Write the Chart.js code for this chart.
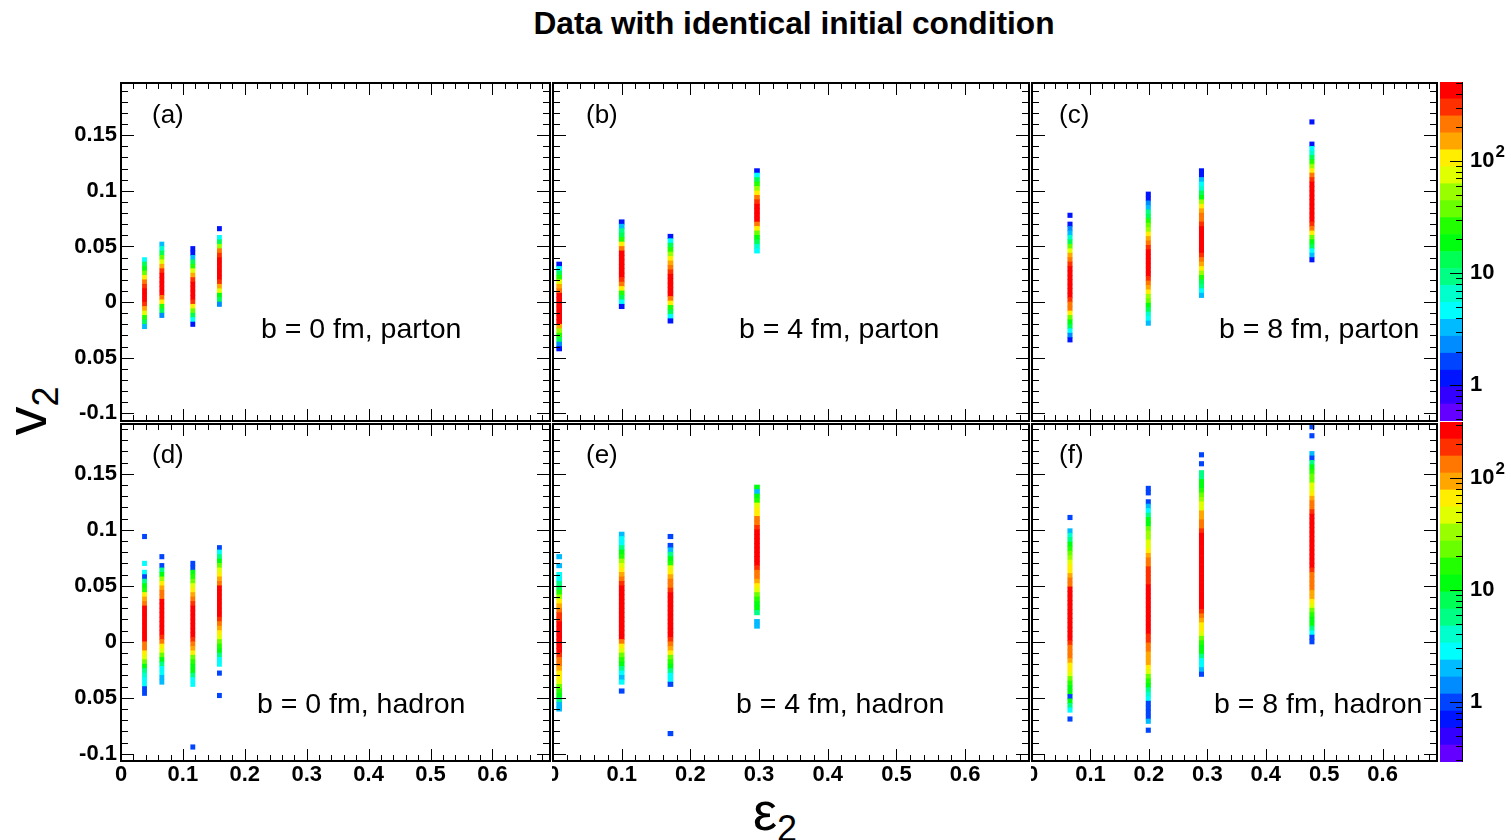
<!DOCTYPE html>
<html>
<head>
<meta charset="utf-8">
<title>Data with identical initial condition</title>
<script src="https://cdn.jsdelivr.net/npm/chart.js@4.4.1/dist/chart.umd.min.js"></script>
<style>
  html, body { margin: 0; padding: 0; background: #fff; }
  #page { position: relative; width: 1511px; height: 840px; overflow: hidden; background: #fff;
          font-family: 'Liberation Sans', Arial, sans-serif; color: #000; }
  canvas { position: absolute; }
  .txt { position: absolute; line-height: 1; white-space: nowrap; }
</style>
</head>
<body>
<div id="page">
  <div class="txt" style="left:794px; top:7.5px; transform:translateX(-50%); font-weight:bold; font-size:31.7px;">Data with identical initial condition</div>
  <div class="txt" style="left:26px; top:411px; transform:translate(-50%,-50%) rotate(-90deg); font-size:58px;">v<span style="font-size:36px; position:relative; top:12px;">2</span></div>
  <div class="txt" style="left:753px; top:784px; font-size:54px;">ε</div>
  <div class="txt" style="left:777px; top:811px; font-size:36px;">2</div>
</div>
<script>
// ---- data ----
const vBin = 0.004; // v2 bin width of the 2D histograms

// epsilon_2 of the four events in each impact-parameter class
const eps0fm = [0.038, 0.066, 0.116, 0.159];
const eps4fm = [0.009, 0.100, 0.171, 0.297];
const eps8fm = [0.065, 0.199, 0.290, 0.479];

// top edge (v2) of each strip and its counts per bin, read from top to bottom
const partonB0Top = [0.040, 0.054, 0.050, 0.068];
const partonB0Counts = [
  [5, 12, 20, 40, 90, 180, 350, 450, 480, 450, 300, 150, 80, 30, 15, 3],
  [3, 6, 15, 35, 80, 160, 300, 450, 500, 520, 500, 450, 220, 100, 30, 12, 2],
  [1, 1, 3, 12, 30, 80, 150, 300, 450, 480, 470, 450, 300, 100, 40, 15, 5, 1],
  [1, 0, 5, 15, 60, 180, 350, 450, 480, 470, 450, 450, 300, 150, 70, 20, 12, 2]
];
const partonB4Top = [0.036, 0.074, 0.061, 0.120];
const partonB4Counts = [
  [1, 5, 12, 30, 70, 150, 250, 400, 480, 500, 500, 480, 450, 400, 150, 60, 25, 12, 2, 1],
  [1, 3, 8, 15, 30, 100, 200, 400, 450, 480, 500, 480, 450, 300, 200, 90, 30, 15, 4, 1],
  [1, 4, 12, 25, 60, 90, 150, 220, 350, 450, 480, 480, 470, 400, 200, 90, 30, 15, 4, 1],
  [1, 4, 12, 25, 50, 90, 180, 300, 450, 500, 480, 400, 200, 100, 35, 20, 12, 6, 4]
];
const partonB8Top = [0.080, 0.099, 0.120, 0.164];
const partonB8Counts = [
  [1, 0, 1, 2, 3, 6, 15, 35, 70, 150, 200, 300, 400, 450, 480, 500, 480, 450, 400, 300, 250, 180, 100, 40, 20, 12, 4, 2, 1],
  [1, 1, 2, 3, 8, 15, 25, 40, 60, 90, 130, 200, 300, 400, 450, 480, 480, 450, 400, 300, 200, 150, 100, 60, 35, 20, 12, 6, 4, 3],
  [1, 1, 3, 4, 6, 12, 20, 50, 90, 150, 200, 250, 350, 450, 480, 500, 500, 480, 450, 300, 200, 150, 100, 60, 25, 15, 8, 4, 3],
  [1, 0, 0, 0, 0, 1, 4, 6, 15, 30, 60, 100, 200, 300, 400, 450, 480, 500, 500, 500, 480, 450, 400, 300, 180, 100, 40, 20, 12, 4, 3, 1]
];
const hadronB0Top = [0.096, 0.078, 0.072, 0.086];
const hadronB0Counts = [
  [1, 0, 0, 0, 0, 0, 3, 0, 3, 1, 5, 10, 15, 60, 110, 150, 230, 260, 280, 300, 300, 280, 250, 230, 150, 120, 70, 55, 20, 12, 6, 4, 3, 3, 1, 1],
  [1, 0, 1, 5, 12, 30, 60, 90, 120, 150, 230, 260, 280, 300, 300, 300, 280, 260, 220, 150, 70, 45, 20, 12, 5, 3, 3, 2, 2],
  [1, 1, 10, 15, 20, 45, 65, 90, 130, 180, 240, 280, 300, 300, 300, 280, 240, 180, 130, 90, 60, 25, 15, 12, 10, 6, 3, 3,
   0, 0, 0, 0, 0, 0, 0, 0, 0, 0, 0, 0, 0, 1],
  [1, 3, 6, 12, 20, 55, 70, 110, 150, 240, 280, 300, 300, 280, 260, 240, 180, 140, 110, 70, 45, 25, 15, 12, 6, 3, 3, 0, 1, 0, 0, 0, 0, 1]
];
const hadronB4Top = [0.078, 0.098, 0.096, 0.140];
const hadronB4Counts = [
  [2, 0, 2, 0, 3, 3, 5, 8, 15, 30, 60, 90, 130, 160, 200, 240, 280, 300, 320, 300, 280, 250, 180, 140, 120, 100, 70, 60, 40, 20, 15, 10, 6, 2, 2],
  [2, 3, 3, 5, 10, 15, 30, 45, 60, 90, 130, 200, 240, 260, 280, 300, 300, 320, 320, 300, 300, 280, 260, 240, 140, 70, 45, 20, 15, 10, 5, 3, 2, 3, 0, 1],
  [1, 0, 1, 2, 5, 12, 15, 40, 60, 90, 130, 150, 200, 240, 280, 300, 320, 320, 320, 300, 300, 280, 240, 200, 140, 80, 60, 25, 15, 12, 6, 3, 3, 1,
   0, 0, 0, 0, 0, 0, 0, 0, 0, 0, 1],
  [12, 2, 12, 15, 40, 60, 70, 120, 150, 200, 240, 280, 300, 320, 320, 300, 280, 240, 200, 140, 120, 90, 65, 45, 25, 15, 12, 10, 6, 0, 2, 2]
];
const hadronB8Top = [0.113, 0.139, 0.169, 0.194];
const hadronB8Counts = [
  [1, 0, 0, 2, 4, 6, 10, 15, 20, 35, 45, 60, 70, 110, 140, 150, 230, 250, 270, 290, 300, 310, 320, 310, 300, 290, 270, 240, 200, 150, 130, 120, 100, 70, 60, 40, 25, 15, 12, 12, 1, 10, 6, 3, 0, 1],
  [1, 1, 0, 1, 2, 3, 5, 10, 12, 25, 30, 35, 40, 50, 70, 80, 120, 140, 160, 200, 210, 220, 260,
   300, 300, 300, 300, 300, 300, 300, 300, 300, 300,
   200, 200, 150, 140, 100, 90, 80, 70, 50, 25, 15, 12, 6, 4, 3, 1, 1, 1, 1, 2, 0, 1],
  [1, 0, 1, 0, 5, 6, 10, 12, 15, 20, 30, 40, 55, 80, 110, 130, 150, 200, 230, 250, 270, 290, 300, 300, 310, 320, 320, 320, 310, 300, 300, 290, 270, 250, 230, 200, 140, 100, 70, 60, 40, 25, 15, 12, 10, 6, 3, 3, 2, 1],
  [1, 0, 1, 0, 0, 0, 2, 1, 6, 12, 15, 20, 25, 40, 55, 70, 110, 130, 150, 200, 240, 260, 280, 300, 310, 320, 320, 310, 300, 280, 260, 240, 200, 150, 140, 130, 120, 100, 80, 65, 45, 25, 15, 12, 10, 6, 3, 1, 1]
];

// axis ranges and colour (z) ranges
const xRange = [0, 0.693];
const yRangeParton = [-0.107, 0.197];
const yRangeHadron = [-0.1065, 0.1945];
const zRangeParton = [0.48, 507];
const zRangeHadron = [0.29, 316];

// tick labels (palette labels: base text plus exponent)
const xTickValues = [0, 0.1, 0.2, 0.3, 0.4, 0.5, 0.6];
const xTickLabels = ['0', '0.1', '0.2', '0.3', '0.4', '0.5', '0.6'];
const yTickValues = [-0.1, -0.05, 0, 0.05, 0.1, 0.15];
const yTickLabels = ['-0.1', '0.05', '0', '0.05', '0.1', '0.15'];
const zTickValues = [1, 10, 100];
const zTickLabels = ['1', '10', '10'];
const zTickExps = ['', '', '2'];

const panelTags = ['(a)', '(b)', '(c)', '(d)', '(e)', '(f)'];
const panelNotes = ['b = 0 fm, parton', 'b = 4 fm, parton', 'b = 8 fm, parton',
                    'b = 0 fm, hadron', 'b = 4 fm, hadron', 'b = 8 fm, hadron'];

// ---- drawing ----
Chart.defaults.font.family = "'Liberation Sans', Arial, sans-serif";
Chart.defaults.color = '#000';
const page = document.getElementById('page');
const nLevels = 20;
const tickFont = {size: 22, weight: 'bold'};

// ROOT "pretty" palette, 20 contour levels
function levelColor(k) {
  const hue = 280 - (Math.floor((k + 0.99) * 2.5) + 1) * 5.6;
  return 'hsl(' + hue.toFixed(1) + ', 100%, 50%)';
}
function countColor(c, zr) {
  const lmin = Math.log10(zr[0]), lmax = Math.log10(zr[1]);
  let k = Math.floor((Math.log10(c) - lmin) / (lmax - lmin) * nLevels);
  return levelColor(Math.max(0, Math.min(nLevels - 1, k)));
}

// frame with inward ticks on all four sides
const frameTicks = {
  id: 'frameTicks',
  afterDatasetsDraw(chart) {
    const {ctx, chartArea: a, scales: {x, y}} = chart;
    ctx.save();
    ctx.strokeStyle = '#000';
    ctx.lineWidth = 1;
    ctx.beginPath();
    for (let i = Math.ceil(x.min / 0.02 - 1e-6); i * 0.02 <= x.max + 1e-9; i++) {
      const px = Math.round(x.getPixelForValue(i * 0.02)) + 0.5;
      const len = i % 5 === 0 ? 12 : 6;
      ctx.moveTo(px, a.bottom); ctx.lineTo(px, a.bottom - len);
      ctx.moveTo(px, a.top); ctx.lineTo(px, a.top + len);
    }
    for (let i = Math.ceil(y.min / 0.01 - 1e-6); i * 0.01 <= y.max + 1e-9; i++) {
      const py = Math.round(y.getPixelForValue(i * 0.01)) + 0.5;
      const len = i % 5 === 0 ? 13 : 7;
      ctx.moveTo(a.left, py); ctx.lineTo(a.left + len, py);
      ctx.moveTo(a.right, py); ctx.lineTo(a.right - len, py);
    }
    ctx.stroke();
    ctx.lineWidth = 2;
    ctx.strokeRect(a.left, a.top, a.right - a.left, a.bottom - a.top);
    ctx.restore();
  }
};

// log ticks on the palette axis, plus exponents of its labels
const paletteTicks = {
  id: 'paletteTicks',
  afterDatasetsDraw(chart) {
    const {ctx, chartArea: a, scales: {y}} = chart;
    ctx.save();
    ctx.strokeStyle = '#000';
    ctx.lineWidth = 1;
    ctx.beginPath();
    for (let d = Math.floor(Math.log10(y.min)); d <= Math.ceil(Math.log10(y.max)); d++) {
      for (let m = 1; m < 10; m++) {
        const v = m * Math.pow(10, d);
        if (v < y.min || v > y.max) continue;
        const py = Math.round(y.getPixelForValue(v)) + 0.5;
        ctx.moveTo(a.right, py); ctx.lineTo(a.right - (m === 1 ? 12 : 6), py);
      }
    }
    ctx.moveTo(a.right + 0.5, a.top); ctx.lineTo(a.right + 0.5, a.bottom);
    ctx.stroke();
    ctx.fillStyle = '#000';
    zTickValues.forEach((v, i) => {
      if (!zTickExps[i]) return;
      ctx.font = "bold 22px 'Liberation Sans', Arial, sans-serif";
      const w = ctx.measureText(zTickLabels[i]).width;
      ctx.font = "bold 17px 'Liberation Sans', Arial, sans-serif";
      ctx.textBaseline = 'alphabetic';
      ctx.fillText(zTickExps[i], a.right + 8 + w + 1, y.getPixelForValue(v) - 4);
    });
    ctx.restore();
  }
};

const cols = [
  {left: 121, right: 550, bar: 4.2, tagX: 152, noteX: [261, 257]},
  {left: 553, right: 1029, bar: 5, tagX: 586, noteX: [739, 736]},
  {left: 1032, right: 1437, bar: 4.4, tagX: 1059, noteX: [1219, 1214]}
];
const rows = [
  {top: 83, bottom: 421, y: yRangeParton, z: zRangeParton, tagBase: 123, noteBase: 338},
  {top: 424, bottom: 761, y: yRangeHadron, z: zRangeHadron, tagBase: 463, noteBase: 713}
];

const panels = [
  {eps: eps0fm, tops: partonB0Top, counts: partonB0Counts, col: 0, row: 0},
  {eps: eps4fm, tops: partonB4Top, counts: partonB4Counts, col: 1, row: 0},
  {eps: eps8fm, tops: partonB8Top, counts: partonB8Counts, col: 2, row: 0},
  {eps: eps0fm, tops: hadronB0Top, counts: hadronB0Counts, col: 0, row: 1},
  {eps: eps4fm, tops: hadronB4Top, counts: hadronB4Counts, col: 1, row: 1},
  {eps: eps8fm, tops: hadronB8Top, counts: hadronB8Counts, col: 2, row: 1}
];

function cellsOf(p) {
  const out = [];
  p.counts.forEach((strip, i) => strip.forEach((c, k) => {
    if (c > 0) out.push({x: p.eps[i], y: [p.tops[i] - (k + 1) * vBin, p.tops[i] - k * vBin], c: c});
  }));
  return out;
}

function putText(txt, x, baseline, size) {
  const d = document.createElement('div');
  d.className = 'txt';
  d.textContent = txt;
  d.style.left = x + 'px';
  d.style.top = (baseline - 0.8465 * size) + 'px';
  d.style.fontSize = size + 'px';
  page.appendChild(d);
}

function drawPanel(p, n) {
  const col = cols[p.col], row = rows[p.row];
  const first = p.col === 0, lowest = p.row === 1;
  const axisW = first ? col.left : 0;
  const axisH = lowest ? 40 : 0;
  const left = first ? 0 : col.left - 1;
  const cv = document.createElement('canvas');
  cv.width = col.right + 2 - left;
  cv.height = row.bottom - row.top + 2 + (lowest ? axisH : 2);
  cv.style.left = left + 'px';
  cv.style.top = (row.top - 2) + 'px';
  page.appendChild(cv);

  new Chart(cv, {
    type: 'bar',
    data: {
      datasets: [{
        data: cellsOf(p),
        backgroundColor: ctx => ctx.raw ? countColor(ctx.raw.c, row.z) : '#000',
        borderWidth: 0,
        barThickness: col.bar,
        grouped: false
      }]
    },
    options: {
      responsive: false,
      animation: false,
      devicePixelRatio: 1,
      events: [],
      layout: {padding: {left: first ? 0 : 1, top: 2, right: 2, bottom: lowest ? 0 : 2}},
      plugins: {legend: {display: false}, tooltip: {enabled: false}},
      scales: {
        x: {
          type: 'linear', offset: false, min: xRange[0], max: xRange[1], display: lowest,
          grid: {display: false, drawTicks: false}, border: {display: false},
          ticks: {font: tickFont, padding: 1, maxRotation: 0, autoSkip: false,
                  callback: (v, i) => xTickLabels[i]},
          afterBuildTicks: s => { s.ticks = xTickValues.map(v => ({value: v})); },
          afterFit: s => { s.height = axisH; s.paddingLeft = 0; s.paddingRight = 0; }
        },
        y: {
          type: 'linear', min: row.y[0], max: row.y[1], display: first,
          grid: {display: false, drawTicks: false}, border: {display: false},
          ticks: {font: tickFont, padding: 4, autoSkip: false,
                  callback: (v, i) => yTickLabels[i]},
          afterBuildTicks: s => { s.ticks = yTickValues.map(v => ({value: v})); },
          afterFit: s => { s.width = axisW; s.paddingTop = 0; s.paddingBottom = 0; }
        }
      }
    },
    plugins: [frameTicks]
  });

  putText(panelTags[n], col.tagX, row.tagBase, 26);
  putText(panelNotes[n], col.noteX[p.row], row.noteBase, 28.5);
}

function drawPalette(zr, top, bottom) {
  const cv = document.createElement('canvas');
  cv.width = 71;
  cv.height = bottom - top;
  cv.style.left = '1440px';
  cv.style.top = top + 'px';
  page.appendChild(cv);
  const lmin = Math.log10(zr[0]), lmax = Math.log10(zr[1]);
  const step = (lmax - lmin) / nLevels;
  const datasets = [];
  for (let k = 0; k < nLevels; k++) {
    datasets.push({
      data: [[Math.pow(10, lmin + k * step), Math.pow(10, lmin + (k + 1) * step)]],
      backgroundColor: levelColor(k),
      borderWidth: 0, grouped: false, barPercentage: 1, categoryPercentage: 1
    });
  }
  new Chart(cv, {
    type: 'bar',
    data: {labels: [''], datasets: datasets},
    options: {
      responsive: false,
      animation: false,
      devicePixelRatio: 1,
      events: [],
      layout: {padding: 0},
      plugins: {legend: {display: false}, tooltip: {enabled: false}},
      scales: {
        x: {display: false},
        y: {
          type: 'logarithmic', position: 'right', min: zr[0], max: zr[1],
          grid: {display: false, drawTicks: false}, border: {display: false},
          ticks: {font: tickFont, padding: 8, autoSkip: false, callback: (v, i) => zTickLabels[i]},
          afterBuildTicks: s => { s.ticks = zTickValues.map(v => ({value: v})); },
          afterFit: s => { s.width = 49; s.paddingTop = 0; s.paddingBottom = 0; }
        }
      }
    },
    plugins: [paletteTicks]
  });
}

panels.forEach(drawPanel);
drawPalette(zRangeParton, 82, 421);
drawPalette(zRangeHadron, 422, 762);
</script>
</body>
</html>
